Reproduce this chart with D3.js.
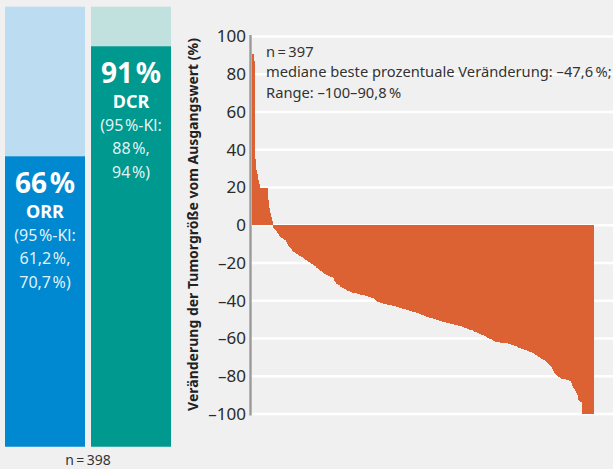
<!DOCTYPE html>
<html>
<head>
<meta charset="utf-8">
<script src="https://cdn.jsdelivr.net/npm/d3@7/dist/d3.min.js"></script>
<style>
  html, body { margin: 0; padding: 0; background: #f0f0f0; }
  svg { display: block; font-family: "Noto Sans", "Open Sans", sans-serif; }
</style>
</head>
<body>
<svg id="chart" width="613" height="469"></svg>
<script>
// left panel: response rates
const rateLabels = ["ORR", "DCR"];
const rateValues = [66, 91];
const ciLow = ["61,2", "88"];
const ciHigh = ["70,7", "94"];
const rateN = 398;

// waterfall: best percentage change per patient, sorted
const changes = [
  90.8, 87.0, 35.2, 31.0, 29.5, 27.0, 24.0, 22.0,
  20.0, 20.0, 20.0, 20.0, 20.0, 20.0, 20.0, 20.0, 20.0, 20.0,
  13.3, 9.1, 6.7, 4.2, 2.0,
  0, -0.8, -1.5, -2.0, -2.7, -3.2, -3.9, -4.5, -5.2, -5.8,
  -6.3, -6.7, -7.0, -7.4, -7.7, -7.9, -8.0, -9.1, -10.0, -11.0,
  -11.5, -12.0, -12.5, -13.1, -13.6, -14.0, -14.3, -14.6,
  -15.0, -15.3, -15.6, -15.9, -16.2, -16.5, -16.7, -17.0, -17.3, -17.6, -18.0,
  -18.3, -18.6, -19.0, -19.3, -19.6, -20.0, -20.0, -20.3, -20.7, -21.0, -21.4, -21.7, -22.0, -22.5,
  -22.9, -23.3, -23.7, -24.0, -24.4, -24.8, -25.0, -25.5,
  -25.8, -26.0, -26.2, -26.5, -26.7, -26.9, -27.0, -27.2, -27.3, -27.5, -27.7,
  -28.6, -29.5, -30.2, -31.0,
  -31.3, -31.6, -31.9, -32.2, -32.5, -32.8, -33.0, -33.3, -33.6, -33.9,
  -34.1, -34.3, -34.6, -34.8, -35.0, -35.2, -35.4, -35.6,
  -35.7, -35.8, -35.9, -36.0, -36.1, -36.2, -36.4, -36.5, -36.6, -36.7, -36.9, -37.0,
  -37.1, -37.2, -37.3, -37.5, -37.6, -37.7, -37.8, -38.0, -38.1, -38.3, -38.5, -38.6, -38.8,
  -39.2, -39.6, -39.9, -40.2, -40.4, -40.6, -40.8, -41.0, -41.2, -41.4,
  -41.5, -41.6, -41.7, -41.8, -41.9, -42.0, -42.1, -42.2, -42.3, -42.4,
  -42.5, -42.6, -42.7, -42.8, -42.9, -43.0, -43.1, -43.3, -43.5,
  -43.6, -43.7, -43.9, -44.0, -44.2, -44.3, -44.4, -44.6, -44.7, -44.9,
  -45.0, -45.1, -45.3, -45.4, -45.5, -45.7, -45.8, -46.0, -46.1,
  -46.2, -46.4, -46.5, -46.7, -46.9, -47.0, -47.2, -47.4, -47.6, -47.8,
  -47.9, -48.1, -48.3, -48.4, -48.6, -48.8, -48.9, -49.0, -49.2, -49.3,
  -49.4, -49.6, -49.7, -49.9, -50.0, -50.1, -50.3, -50.4, -50.6, -50.7,
  -50.8, -51.0, -51.1, -51.3, -51.4,
  -51.5, -51.6, -51.7, -51.8, -52.0, -52.1, -52.2, -52.3, -52.4, -52.5,
  -52.6, -52.8, -52.9, -53.0, -53.1, -53.2, -53.4, -53.5,
  -53.6, -53.8, -54.0, -54.1, -54.3, -54.5, -54.6, -54.8, -55.0, -55.1,
  -55.3, -55.4, -55.5, -55.7, -55.8,
  -56.0, -56.3, -56.6, -56.8, -57.0, -57.2, -57.4, -57.6, -57.8, -58.0,
  -58.2, -58.4, -58.7, -58.9, -59.1, -59.3,
  -59.5, -59.8, -60.0, -60.3, -60.5, -60.7, -61.0, -61.2, -61.4, -61.6, -61.8, -62.0,
  -62.0, -62.1, -62.1, -62.2, -62.2, -62.3, -62.3, -62.4, -62.5, -62.5,
  -62.6, -62.6, -62.7, -62.8, -62.9,
  -63.1, -63.3, -63.5, -63.7, -63.9, -64.0, -64.2, -64.4, -64.6, -64.8, -64.9, -65.1,
  -65.3, -65.4, -65.6, -65.7, -65.9, -66.0, -66.2, -66.4, -66.5, -66.7, -66.9,
  -67.1, -67.4, -67.6, -67.9, -68.2, -68.4, -68.7, -69.0,
  -69.3, -69.6, -69.9, -70.2, -70.4, -70.7, -71.0, -71.2, -71.5, -71.7,
  -72.2, -72.7, -73.2, -73.7, -74.2, -74.7, -75.2,
  -75.9, -76.7, -77.4, -78.1, -78.9, -79.6,
  -79.9, -80.2, -80.5, -80.8, -81.0, -81.3,
  -81.4, -81.5, -81.6, -81.7, -81.8, -81.9, -82.0, -82.2, -82.4, -82.7,
  -83.5, -84.3, -85.1, -86.0,
  -87.0, -88.0, -89.0, -90.1,
  -91.5, -92.8, -93.2, -93.5, -93.7,
  -100, -100, -100, -100, -100, -100, -100, -100, -100, -100, -100, -100, -100
];
const yTicks = [-100, -80, -60, -40, -20, 0, 20, 40, 60, 80, 100];
const noteLines = [
  "n\u2009=\u2009397",
  "mediane beste prozentuale Veränderung: –47,6\u2009%;",
  "Range: –100–90,8\u2009%"
];
const yTitle = "Veränderung der Tumorgröße vom Ausgangswert (%)";

const svg = d3.select("#chart");
svg.append("rect").attr("width", 613).attr("height", 469).attr("fill", "#f0f0f0");

// ---- left stacked rate bars
const lightCol = ["#bcdcf2", "#c0e1de"];
const darkCol = ["#0089d1", "#00998f"];

const xr = d3.scaleBand().domain(rateLabels).range([5, 171]).paddingInner(0.07);
const yr = d3.scaleLinear().domain([0, 100]).range([446.7, 6.7]);

const rg = svg.append("g");
rateLabels.forEach((lab, i) => {
  const x0 = xr(lab), w = xr.bandwidth(), cx = x0 + w / 2;
  const top = yr(rateValues[i]);
  rg.append("rect").attr("x", x0).attr("y", yr(100)).attr("width", w)
    .attr("height", yr(0) - yr(100)).attr("fill", lightCol[i]);
  rg.append("rect").attr("x", x0).attr("y", top).attr("width", w)
    .attr("height", yr(0) - top).attr("fill", darkCol[i]);

  const lines = [
    {t: rateValues[i] + "\u200a%", dy: 37, size: 28, w: 700, op: 1},
    {t: lab, dy: 62, size: 18, w: 700, op: 1},
    {t: "(95\u200a%-Kl:", dy: 85, size: 16, w: 400, op: 0.9},
    {t: ciLow[i] + "\u200a%,", dy: 108, size: 16, w: 400, op: 0.9},
    {t: ciHigh[i] + "\u200a%)", dy: 132, size: 16, w: 400, op: 0.9}
  ];
  lines.forEach(l => {
    rg.append("text").attr("x", cx).attr("y", top + l.dy)
      .attr("text-anchor", "middle").attr("fill", "#fff").attr("fill-opacity", l.op)
      .style("font-size", l.size + "px").style("font-weight", l.w).text(l.t);
  });
});
rg.append("text").attr("x", 88).attr("y", 465).attr("text-anchor", "middle")
  .attr("fill", "#333").style("font-size", "14px").text("n\u2009=\u2009" + rateN);

// ---- waterfall
const x = d3.scaleBand().domain(d3.range(changes.length)).range([252, 593]).padding(0);
const y = d3.scaleLinear().domain([-100, 100]).range([414, 36.5]);

const wg = svg.append("g");
wg.selectAll("line.grid").data(yTicks).join("line").attr("class", "grid")
  .attr("x1", 251).attr("x2", 613)
  .attr("y1", d => y(d)).attr("y2", d => y(d))
  .attr("stroke", "#fff").attr("stroke-width", 2.5);

wg.selectAll("rect.bar").data(changes).join("rect").attr("class", "bar")
  .attr("x", (d, i) => x(i))
  .attr("width", x.bandwidth() + 1)
  .attr("y", d => y(Math.max(0, d)))
  .attr("height", d => Math.abs(y(d) - y(0)))
  .attr("fill", "#dc6133")
  .attr("shape-rendering", "crispEdges");

const axis = d3.axisLeft(y).tickValues(yTicks).tickSize(0).tickPadding(0)
  .tickFormat(d => String(d).replace("-", "–"));
const ag = svg.append("g").attr("transform", "translate(246,0)").call(axis);
ag.select(".domain").remove();
ag.selectAll("text").attr("fill", "#2a2a2a").style("font-size", "17px")
  .style("font-family", "'Noto Sans', sans-serif");

svg.append("line").attr("x1", 250.5).attr("x2", 250.5).attr("y1", 35).attr("y2", 415.5)
  .attr("stroke", "#9a9a9a").attr("stroke-width", 2.4);

svg.append("text")
  .attr("transform", `translate(198,${(31 + 418) / 2}) rotate(-90)`)
  .attr("text-anchor", "middle").attr("fill", "#222")
  .style("font-size", "14px").style("font-weight", 700).text(yTitle);

svg.append("g").selectAll("text").data(noteLines).join("text")
  .attr("x", 266).attr("y", (d, i) => 56.5 + i * 20.7)
  .attr("fill", "#333").style("font-size", "14.7px").text(d => d);
</script>
</body>
</html>
